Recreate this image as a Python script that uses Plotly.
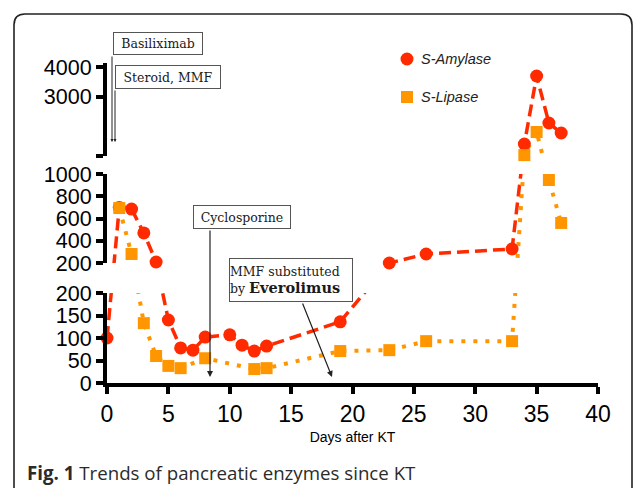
import plotly.graph_objects as go

W, H = 633, 488

# ---------------- data ----------------
amy_days = [0, 1, 2, 3, 4, 5, 6, 7, 8, 10, 11, 12, 13, 19, 23, 26, 33, 34, 35, 36, 37]
amylase = [100, 700, 685, 470, 209, 140, 78, 73, 102, 107, 84, 71, 82, 136, 200, 281, 326, 1404, 3696, 2112, 1775]

lip_days = [1, 2, 3, 4, 5, 6, 8, 12, 13, 19, 23, 26, 33, 34, 35, 36, 37]
lipase = [694, 281, 133, 60, 38, 33, 55, 31, 33, 71, 73, 93, 93, 1030, 1809, 946, 560]

x_ticks = [0, 5, 10, 15, 20, 25, 30, 35, 40]
seg_ticks = [
    [0, 50, 100, 150, 200],
    [200, 400, 600, 800, 1000],
    [1000, 3000, 4000],
]
seg_ticktext = [
    ["0", "50", "100", "150", "200"],
    ["200", "400", "600", "800", "1000"],
    ["", "3000", "4000"],
]

# broken axis: value range of each segment -> pixel-height coordinate (t)
SEG = [(0, 200, 0, 90), (200, 1000, 120, 209), (1000, 4135, 227, 320)]
SEG_PX = [(293, 383), (174, 263), (63, 156)]  # top/bottom pixel rows of each segment


def seg_of(v):
    if v < 200:
        return 0
    if v <= 1000:
        return 1
    return 2


def t_in(s, v):
    lo, hi, tlo, thi = SEG[s]
    return tlo + (v - lo) * (thi - tlo) / (hi - lo)


def t(v):
    return t_in(seg_of(v), v)


def px(x):
    return x / W


def py(y):
    return (H - y) / H


RED = "#FF2A00"
ORANGE = "#FF9600"
YTICKFONT = dict(family="Liberation Sans, Arial, sans-serif", size=21.5, color="black")
XTICKFONT = dict(family="Liberation Sans, Arial, sans-serif", size=23, color="black")
SERIF = "DejaVu Serif, Georgia, serif"

fig = go.Figure()
yaxes = ["y", "y2", "y3"]

amy_t = [t(v) for v in amylase]
lip_t = [t(v) for v in lipase]

for s, ya in enumerate(yaxes):
    fig.add_trace(go.Scatter(x=amy_days, y=amy_t, mode="lines", xaxis="x", yaxis=ya,
                             line=dict(color=RED, width=3.5, dash="12px,6px"),
                             hoverinfo="skip", showlegend=False))
    fig.add_trace(go.Scatter(x=lip_days, y=lip_t, mode="lines", xaxis="x", yaxis=ya,
                             line=dict(color=ORANGE, width=4, dash="4px,8px"),
                             hoverinfo="skip", showlegend=False))

for s, ya in enumerate(yaxes):
    ax_ = [d for d, v in zip(amy_days, amylase) if seg_of(v) == s]
    ay_ = [t(v) for v in amylase if seg_of(v) == s]
    fig.add_trace(go.Scatter(x=ax_, y=ay_, mode="markers", xaxis="x", yaxis=ya,
                             marker=dict(symbol="circle", size=13, color=RED),
                             cliponaxis=False, showlegend=False, name="S-Amylase"))
for s, ya in enumerate(yaxes):
    lx_ = [d for d, v in zip(lip_days, lipase) if seg_of(v) == s]
    ly_ = [t(v) for v in lipase if seg_of(v) == s]
    fig.add_trace(go.Scatter(x=lx_, y=ly_, mode="markers", xaxis="x", yaxis=ya,
                             marker=dict(symbol="square", size=12, color=ORANGE),
                             cliponaxis=False, showlegend=False, name="S-Lipase"))

axis_common = dict(showline=True, linewidth=4, linecolor="black", ticks="outside",
                   tickwidth=4, tickcolor="black", showgrid=False, zeroline=False,
                   fixedrange=True, automargin=False)

layout_axes = {}
layout_axes["xaxis"] = dict(domain=[px(107), px(598)], range=[0, 40], anchor="y",
                            tickmode="array", tickvals=x_ticks,
                            ticktext=[str(v) for v in x_ticks], ticklen=7,
                            tickfont=XTICKFONT,
                            title=dict(text="Days after KT", standoff=8,
                                       font=dict(family="Liberation Sans, Arial, sans-serif",
                                                 size=14, color="black")),
                            **axis_common)
for s, ya in enumerate(yaxes):
    top_px, bot_px = SEG_PX[s]
    key = "yaxis" if s == 0 else f"yaxis{s + 1}"
    layout_axes[key] = dict(domain=[py(bot_px), py(top_px)],
                            range=[SEG[s][2], SEG[s][2] + (bot_px - top_px)],
                            anchor="x", tickmode="array",
                            tickvals=[t_in(s, v) for v in seg_ticks[s]],
                            ticktext=seg_ticktext[s], ticklen=7, tickfont=YTICKFONT,
                            **axis_common)

annotations = []


def box(text, cx, cy, w, h, align="center", size=12.5):
    annotations.append(dict(text=text, x=px(cx), y=py(cy), xref="paper", yref="paper",
                            xanchor="center", yanchor="middle", showarrow=False,
                            width=w, height=h, align=align, borderpad=0,
                            bordercolor="#555", borderwidth=1, bgcolor="white",
                            font=dict(family=SERIF, size=size, color="#1a1a1a")))


def arrow(x0, y0, x1, y1, size=1.0, width=1.2):
    annotations.append(dict(text="", x=px(x1), y=py(y1), xref="paper", yref="paper",
                            ax=x0 - x1, ay=y0 - y1, axref="pixel", ayref="pixel",
                            showarrow=True, arrowhead=2, arrowsize=size,
                            arrowwidth=width, arrowcolor="#222", standoff=0))


arrow(112, 55, 112, 142, size=0.6, width=1)
arrow(115, 89, 115, 142, size=0.6, width=1)
arrow(210, 229, 210, 377)
arrow(302, 302, 332, 377)

box("Basiliximab", 158, 43.5, 88, 21)
box("Steroid, MMF", 168, 77, 104, 22)
box("Cyclosporine", 242, 217, 96, 22)
box("MMF substituted<br>by <b><span style='font-size:14.5px'>Everolimus</span></b>",
    291, 280, 122, 42, align="left")

# legend
LEGFONT = dict(family="Liberation Sans, Arial, sans-serif", size=14.5, color="#222", style="italic")
annotations.append(dict(text="S-Amylase", x=px(419), y=py(59), xref="paper", yref="paper",
                        xanchor="left", yanchor="middle", showarrow=False, font=LEGFONT))
annotations.append(dict(text="S-Lipase", x=px(419), y=py(97), xref="paper", yref="paper",
                        xanchor="left", yanchor="middle", showarrow=False, font=LEGFONT))

# caption
annotations.append(dict(text="<b>Fig. 1</b> Trends of pancreatic enzymes since KT",
                        x=px(25), y=py(472), xref="paper", yref="paper",
                        xanchor="left", yanchor="middle", showarrow=False,
                        font=dict(family="Open Sans, sans-serif", size=18.7, color="#2b2b2b")))

shapes = [
    dict(type="circle", xref="paper", yref="paper",
         x0=px(400.5), x1=px(413.5), y0=py(65.5), y1=py(52.5),
         fillcolor=RED, line=dict(width=0)),
    dict(type="rect", xref="paper", yref="paper",
         x0=px(401), x1=px(413), y0=py(103), y1=py(91),
         fillcolor=ORANGE, line=dict(width=0)),
]
# rounded outer frame
r = 11
frame = (f"M {px(14)},{py(500)} L {px(14)},{py(14 + r)} "
         f"Q {px(14)},{py(14)} {px(14 + r)},{py(14)} "
         f"L {px(632 - r)},{py(14)} Q {px(632)},{py(14)} {px(632)},{py(14 + r)} "
         f"L {px(632)},{py(500)}")
shapes.append(dict(type="path", xref="paper", yref="paper", path=frame,
                   line=dict(color="#222", width=1.6)))

fig.update_layout(width=W, height=H, autosize=False,
                  margin=dict(l=0, r=0, t=0, b=0, pad=0, autoexpand=False),
                  paper_bgcolor="white", plot_bgcolor="white",
                  showlegend=False, hovermode=False,
                  annotations=annotations, shapes=shapes, **layout_axes)

fig.write_html("out.html", config={"displayModeBar": False},
               post_script="document.body.style.margin='0px';"
                           "document.body.style.overflow='hidden';")
